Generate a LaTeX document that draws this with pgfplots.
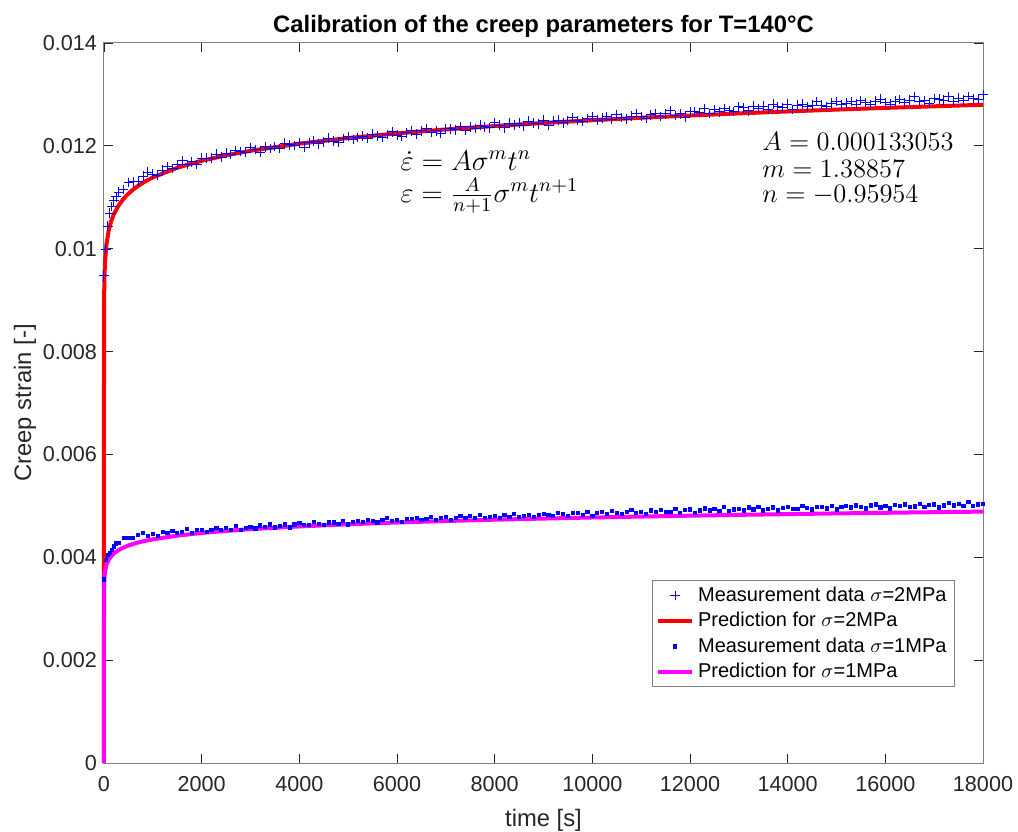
\RequirePackage{fix-cm}
\documentclass[border=0pt]{standalone}
\usepackage[no-math]{fontspec}
\setmainfont{Liberation Sans}
\usepackage{pgfplots}
\pgfplotsset{compat=1.18}
\definecolor{mblue}{rgb}{0,0,1}
\definecolor{mred}{rgb}{1,0,0}
\definecolor{mmag}{rgb}{1,0,1}
\definecolor{axgray}{rgb}{0.5,0.5,0.5}
\definecolor{txtgray}{rgb}{0.15,0.15,0.15}
\begin{document}
\begin{tikzpicture}
\begin{axis}[
  scale only axis, width=439.5pt, height=360pt,
  xmin=0, xmax=18000, ymin=0, ymax=0.014,
  clip=false,
  xtick={0,2000,...,18000},
  ytick={0,0.002,0.004,0.006,0.008,0.01,0.012,0.014},
  scaled ticks=false,
  /pgf/number format/assume math mode=true,
  xticklabel style={/pgf/number format/1000 sep={}, yshift=-3.4pt},
  yticklabel style={/pgf/number format/fixed, /pgf/number format/precision=3},
  ticklabel style={font=\fontsize{10.8}{13}\selectfont, text=txtgray},
  tick align=inside,
  major tick length=4.3pt,
  tick style={txtgray, line width=0.4pt},
  axis line style={axgray, line width=0.5pt},
  every axis title shift=0pt,
  title={Calibration of the creep parameters for T=140°C},
  title style={at={(axis description cs:0.5,1.0139)}, anchor=base, font=\bfseries\fontsize{11.9}{14}\selectfont, text=black},
  xlabel={time [s]},
  xlabel style={at={(axis description cs:0.5,-0.0875)}, anchor=base, font=\fontsize{11.9}{14}\selectfont, text=txtgray},
  ylabel={Creep strain [-]},
  ylabel style={at={(axis description cs:-0.083,0.5)}, anchor=base, font=\fontsize{11.9}{14}\selectfont, text=txtgray},
  legend cell align=left,
  legend style={at={(axis description cs:0.968,0.1056)}, anchor=south east,
    draw=axgray, fill=white, font=\fontsize{10}{12}\selectfont,
    row sep=0pt, inner xsep=2pt, inner ysep=1pt},
]
\addplot[only marks, mark=+, mark size=2.4pt, color=mblue, draw=mblue, mark options={draw=mblue, line width=0.5pt}, legend image post style={draw=mblue, color=mblue}] coordinates {
(0,0.00947)(40,0.00999)(80,0.01044)(120,0.01069)(160,0.01082)(200,0.01093)(250,0.01101)
(300,0.01110)(400,0.01115)(500,0.01129)(600,0.01130)(700,0.01131)(800,0.01141)(900,0.01149)(1000,0.01145)
(1100,0.01143)(1200,0.01153)(1300,0.01159)(1400,0.01156)(1500,0.01163)(1600,0.01171)(1700,0.01164)(1800,0.01169)(1900,0.01164)(2000,0.01176)
(2100,0.01176)(2200,0.01176)(2300,0.01184)(2400,0.01178)(2500,0.01186)(2600,0.01183)(2700,0.01191)(2800,0.01189)(2900,0.01188)(3000,0.01196)
(3100,0.01193)(3200,0.01188)(3300,0.01198)(3400,0.01195)(3500,0.01199)(3600,0.01195)(3700,0.01205)(3800,0.01202)(3900,0.01201)(4000,0.01206)
(4100,0.01197)(4200,0.01206)(4300,0.01209)(4400,0.01204)(4500,0.01208)(4600,0.01215)(4700,0.01209)(4800,0.01207)(4900,0.01214)(5000,0.01218)
(5100,0.01212)(5200,0.01216)(5300,0.01219)(5400,0.01215)(5500,0.01223)(5600,0.01219)(5700,0.01216)(5800,0.01222)(5900,0.01227)(6000,0.01221)
(6100,0.01218)(6200,0.01225)(6300,0.01229)(6400,0.01223)(6500,0.01229)(6600,0.01234)(6700,0.01226)(6800,0.01229)(6900,0.01224)(7000,0.01234)
(7100,0.01233)(7200,0.01231)(7300,0.01238)(7400,0.01230)(7500,0.01237)(7600,0.01234)(7700,0.01240)(7800,0.01237)(7900,0.01235)(8000,0.01245)
(8100,0.01240)(8200,0.01235)(8300,0.01244)(8400,0.01240)(8500,0.01244)(8600,0.01239)(8700,0.01248)(8800,0.01244)(8900,0.01243)(9000,0.01250)
(9100,0.01240)(9200,0.01248)(9300,0.01250)(9400,0.01245)(9500,0.01249)(9600,0.01255)(9700,0.01249)(9800,0.01247)(9900,0.01253)(10000,0.01257)
(10100,0.01250)(10200,0.01254)(10300,0.01257)(10400,0.01252)(10500,0.01260)(10600,0.01255)(10700,0.01252)(10800,0.01258)(10900,0.01263)(11000,0.01257)
(11100,0.01253)(11200,0.01260)(11300,0.01263)(11400,0.01257)(11500,0.01262)(11600,0.01268)(11700,0.01259)(11800,0.01262)(11900,0.01256)(12000,0.01266)
(12100,0.01267)(12200,0.01265)(12300,0.01272)(12400,0.01263)(12500,0.01270)(12600,0.01266)(12700,0.01273)(12800,0.01269)(12900,0.01267)(13000,0.01276)
(13100,0.01274)(13200,0.01268)(13300,0.01277)(13400,0.01273)(13500,0.01277)(13600,0.01271)(13700,0.01281)(13800,0.01276)(13900,0.01274)(14000,0.01281)
(14100,0.01271)(14200,0.01279)(14300,0.01281)(14400,0.01276)(14500,0.01279)(14600,0.01286)(14700,0.01279)(14800,0.01276)(14900,0.01283)(15000,0.01286)
(15100,0.01280)(15200,0.01283)(15300,0.01286)(15400,0.01281)(15500,0.01288)(15600,0.01284)(15700,0.01280)(15800,0.01287)(15900,0.01291)(16000,0.01284)
(16100,0.01281)(16200,0.01287)(16300,0.01290)(16400,0.01284)(16500,0.01289)(16600,0.01295)(16700,0.01286)(16800,0.01288)(16900,0.01283)(17000,0.01292)
(17100,0.01291)(17200,0.01289)(17300,0.01295)(17400,0.01287)(17500,0.01293)(17600,0.01289)(17700,0.01296)(17800,0.01292)(17900,0.01290)(18000,0.01299)
};
\addlegendentry{Measurement data $\sigma$=2MPa}
\addplot[color=mred, line width=2pt, no marks] coordinates {
(0,0)(0.01,0.007146)(0.1,0.007844)(1,0.008610)(2,0.008855)(5,0.009189)(10,0.009451)(20,0.009720)(50,0.010087)(100,0.010373)(150,0.010545)(200,0.010668)(300,0.010845)(400,0.010972)(500,0.011071)(600,0.011153)(700,0.011223)(800,0.011284)(900,0.011338)(1000,0.011386)(1500,0.011574)(2000,0.011710)(2500,0.011816)(3000,0.011904)(4000,0.012043)(5000,0.012152)(6000,0.012242)(7000,0.012319)(8000,0.012386)(9000,0.012445)(10000,0.012498)(11000,0.012546)(12000,0.012590)(13000,0.012631)(14000,0.012669)(15000,0.012705)(16000,0.012738)(17000,0.012769)(18000,0.012799)
};
\addlegendentry{Prediction for $\sigma$=2MPa}
\addplot[only marks, mark=square*, mark size=0.8pt, color=mblue] coordinates {
(0,0.00357)(40,0.00395)(80,0.00404)(120,0.00409)(160,0.00415)(200,0.00421)(250,0.00427)
(300,0.00428)(400,0.00438)(500,0.00438)(600,0.00437)(700,0.00444)(800,0.00447)(900,0.00442)(1000,0.00446)
(1100,0.00442)(1200,0.00449)(1300,0.00448)(1400,0.00452)(1500,0.00448)(1600,0.00449)(1700,0.00455)(1800,0.00448)(1900,0.00453)(2000,0.00454)
(2100,0.00449)(2200,0.00454)(2300,0.00457)(2400,0.00454)(2500,0.00457)(2600,0.00454)(2700,0.00461)(2800,0.00454)(2900,0.00457)(3000,0.00459)
(3100,0.00456)(3200,0.00462)(3300,0.00459)(3400,0.00464)(3500,0.00458)(3600,0.00461)(3700,0.00464)(3800,0.00458)(3900,0.00464)(4000,0.00467)
(4100,0.00463)(4200,0.00463)(4300,0.00469)(4400,0.00465)(4500,0.00463)(4600,0.00468)(4700,0.00468)(4800,0.00465)(4900,0.00471)(5000,0.00464)
(5100,0.00469)(5200,0.00471)(5300,0.00469)(5400,0.00473)(5500,0.00470)(5600,0.00468)(5700,0.00473)(5800,0.00476)(5900,0.00470)(6000,0.00473)
(6100,0.00469)(6200,0.00475)(6300,0.00474)(6400,0.00477)(6500,0.00472)(6600,0.00474)(6700,0.00479)(6800,0.00472)(6900,0.00477)(7000,0.00478)
(7100,0.00472)(7200,0.00477)(7300,0.00480)(7400,0.00476)(7500,0.00480)(7600,0.00476)(7700,0.00483)(7800,0.00476)(7900,0.00479)(8000,0.00480)
(8100,0.00477)(8200,0.00483)(8300,0.00479)(8400,0.00484)(8500,0.00478)(8600,0.00481)(8700,0.00483)(8800,0.00478)(8900,0.00483)(9000,0.00485)
(9100,0.00482)(9200,0.00481)(9300,0.00487)(9400,0.00484)(9500,0.00481)(9600,0.00486)(9700,0.00486)(9800,0.00483)(9900,0.00488)(10000,0.00481)
(10100,0.00486)(10200,0.00488)(10300,0.00485)(10400,0.00490)(10500,0.00487)(10600,0.00484)(10700,0.00489)(10800,0.00492)(10900,0.00486)(11000,0.00489)
(11100,0.00485)(11200,0.00491)(11300,0.00489)(11400,0.00492)(11500,0.00488)(11600,0.00489)(11700,0.00494)(11800,0.00487)(11900,0.00492)(12000,0.00493)
(12100,0.00487)(12200,0.00491)(12300,0.00495)(12400,0.00491)(12500,0.00494)(12600,0.00490)(12700,0.00498)(12800,0.00490)(12900,0.00493)(13000,0.00494)
(13100,0.00491)(13200,0.00497)(13300,0.00493)(13400,0.00498)(13500,0.00491)(13600,0.00494)(13700,0.00497)(13800,0.00491)(13900,0.00496)(14000,0.00498)
(14100,0.00494)(14200,0.00494)(14300,0.00500)(14400,0.00496)(14500,0.00493)(14600,0.00498)(14700,0.00498)(14800,0.00495)(14900,0.00500)(15000,0.00493)
(15100,0.00498)(15200,0.00500)(15300,0.00497)(15400,0.00501)(15500,0.00498)(15600,0.00495)(15700,0.00501)(15800,0.00503)(15900,0.00497)(16000,0.00500)
(16100,0.00495)(16200,0.00502)(16300,0.00500)(16400,0.00503)(16500,0.00498)(16600,0.00499)(16700,0.00504)(16800,0.00498)(16900,0.00502)(17000,0.00503)
(17100,0.00497)(17200,0.00501)(17300,0.00505)(17400,0.00501)(17500,0.00504)(17600,0.00500)(17700,0.00507)(17800,0.00500)(17900,0.00503)(18000,0.00504)
};
\addlegendentry{Measurement data $\sigma$=1MPa}
\addplot[color=mmag, line width=2pt, no marks] coordinates {
(0,0)(0.01,0.002729)(0.1,0.002996)(1,0.003289)(2,0.003382)(5,0.003510)(10,0.003610)(20,0.003712)(50,0.003853)(100,0.003962)(150,0.004028)(200,0.004075)(300,0.004142)(400,0.004191)(500,0.004229)(600,0.004260)(700,0.004287)(800,0.004310)(900,0.004330)(1000,0.004349)(1500,0.004421)(2000,0.004473)(2500,0.004513)(3000,0.004547)(4000,0.004600)(5000,0.004642)(6000,0.004676)(7000,0.004705)(8000,0.004731)(9000,0.004753)(10000,0.004774)(11000,0.004792)(12000,0.004809)(13000,0.004825)(14000,0.004839)(15000,0.004853)(16000,0.004865)(17000,0.004877)(18000,0.004888)
};
\addlegendentry{Prediction for $\sigma$=1MPa}
\node[anchor=base west, inner sep=0pt, font=\fontsize{14.2}{17}\selectfont] at (axis description cs:0.337,0.8236) {$\dot{\varepsilon} = A\sigma^m t^n$};
\node[anchor=base west, inner sep=0pt, font=\fontsize{14.1}{17}\selectfont] at (axis description cs:0.337,0.779) {$\varepsilon = \frac{A}{n+1}\sigma^m t^{n+1}$};
\node[anchor=base west, inner sep=0pt, font=\fontsize{13.25}{14}\selectfont] at (axis description cs:0.7486,0.851) {$A = 0.000133053$};
\node[anchor=base west, inner sep=0pt, font=\fontsize{13.25}{14}\selectfont] at (axis description cs:0.7486,0.8125) {$m = 1.38857$};
\node[anchor=base west, inner sep=0pt, font=\fontsize{13.25}{14}\selectfont] at (axis description cs:0.7486,0.7778) {$n = -0.95954$};
\end{axis}
\pgfresetboundingbox
\useasboundingbox ([xshift=-52pt,yshift=-34pt]current axis.south west) rectangle ([xshift=17.5pt,yshift=21.5pt]current axis.north east);
\end{tikzpicture}
\end{document}
